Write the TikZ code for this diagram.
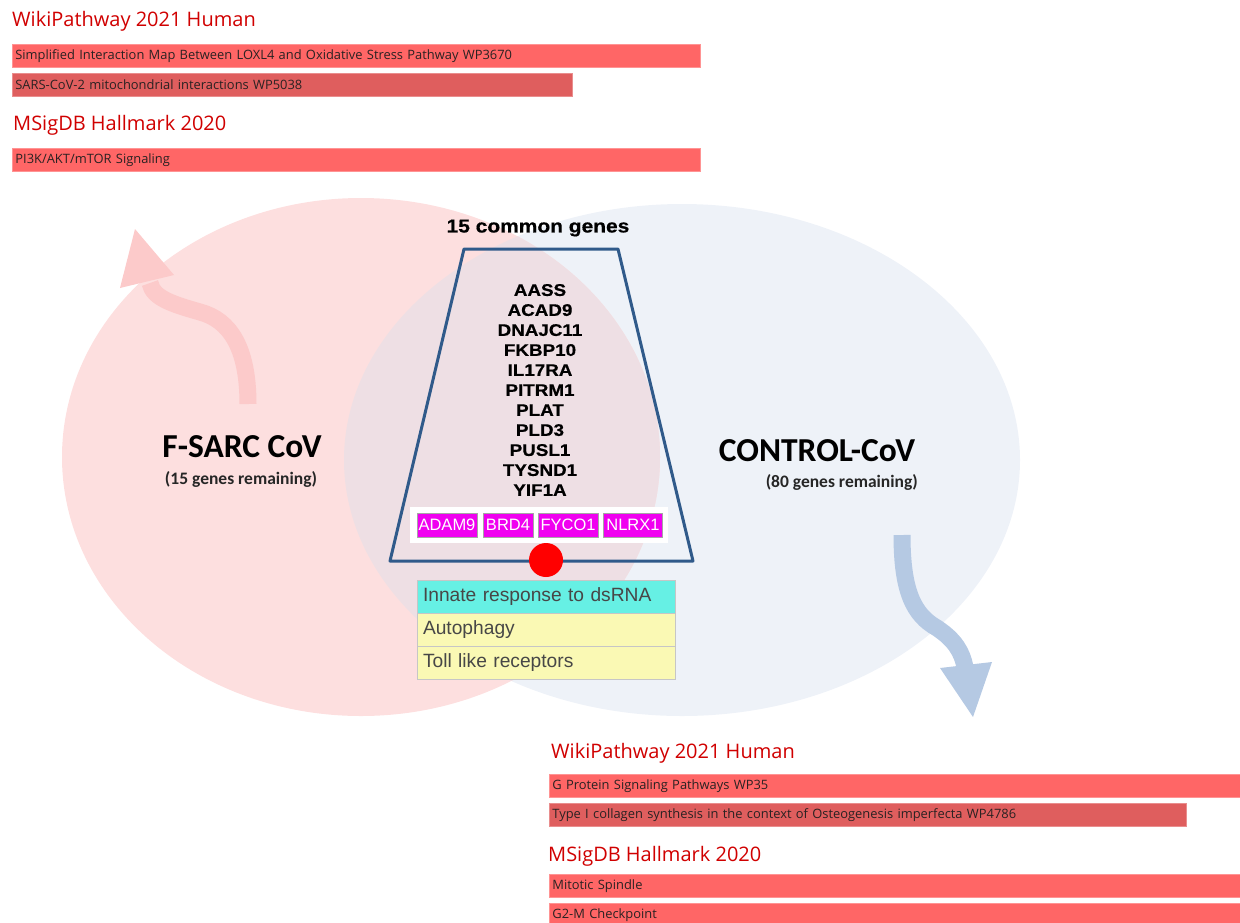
\documentclass[tikz,border=0pt]{standalone}
\usepackage{fontspec}
\setmainfont{Liberation Sans}
\newfontfamily\osans{Open Sans}
\newfontfamily\carl{Carlito}
\newfontfamily\blackf[FakeStretch=1.12,FakeBold=0.6]{Liberation Sans Bold}
\definecolor{pinkE}{HTML}{FDDFDF}
\definecolor{blueE}{HTML}{EEF2F8}
\definecolor{interE}{HTML}{EEDFE4}
\definecolor{pinkA}{HTML}{FCCACA}
\definecolor{blueA}{HTML}{B5C9E3}
\definecolor{trapC}{HTML}{305A8A}
\definecolor{magC}{HTML}{F000F0}
\definecolor{cyanC}{HTML}{66F0E4}
\definecolor{yelC}{HTML}{FAF9B4}
\definecolor{barC}{HTML}{FF6666}
\definecolor{barD}{HTML}{DF5E5E}
\definecolor{titC}{HTML}{D00000}
\definecolor{txtC}{HTML}{2A2222}
\tikzset{
  dbtitle/.style={anchor=west,inner sep=0pt,text=titC,font=\osans\fontsize{20}{24}\selectfont},
  barbox/.style={anchor=north west,fill=barC,draw=barC!70!white,line width=0.8pt,
     inner xsep=3pt,inner ysep=0pt,minimum height=23pt,align=left,
     text=txtC,font=\osans\fontsize{12.9}{15}\selectfont},
  genelist/.style={align=center,inner sep=0pt,font=\blackf\fontsize{16.8}{20}\selectfont},
  tag/.style={fill=magC,draw=gray!70,line width=0.8pt,text=white,minimum height=24pt,
     inner sep=0pt,font=\fontsize{16.5}{18}\selectfont},
  pathrow/.style={minimum width=258pt,minimum height=33pt,text width=246pt,align=left,
     inner xsep=6pt,inner ysep=0pt,draw=gray!45,line width=0.8pt,text=black!72,
     font=\fontsize{19.2}{22}\selectfont},
  biglabel/.style={inner sep=0pt,font=\carl\bfseries\fontsize{33.5}{38}\selectfont},
  sublabel/.style={inner sep=0pt,text=black!85,font=\carl\bfseries\fontsize{17.5}{20}\selectfont},
}
\begin{document}
\begin{tikzpicture}[x=1pt,y=-1pt]
\useasboundingbox (0,0) rectangle (1240,922);
% Venn ellipses
\fill[blueE] (682,460) ellipse [x radius=338, y radius=256];
\fill[pinkE] (361,457) ellipse [x radius=299, y radius=259];
\begin{scope}
  \clip (682,460) ellipse [x radius=338, y radius=256];
  \fill[interE] (361,457) ellipse [x radius=299, y radius=259];
\end{scope}
% curved arrows
\coordinate (pa0) at (248,404);
\coordinate (pa1) at (200,312);
\coordinate (pa2) at (150,283);
\draw[pinkA,line width=17pt] (pa0) .. controls (248,348) and (230,320) .. (pa1)
   .. controls (172,304) and (153,298) .. (pa2);
\fill[pinkA] (120,288) -- (135,229) -- (174,275) -- cycle;
\coordinate (ba0) at (902,535);
\coordinate (ba1) at (937,628);
\coordinate (ba2) at (965,667);
\draw[blueA,line width=17pt] (ba0) .. controls (902,592) and (914,615) .. (ba1)
   .. controls (955,640) and (962,652) .. (ba2);
\fill[blueA] (940,668) -- (992,662) -- (973,717) -- cycle;
% top enrichment
\node[dbtitle] (t1) at (12,21) {WikiPathway 2021 Human};
\node[barbox,text width=682pt] (b1) at (12,44) {Simplified Interaction Map Between LOXL4 and Oxidative Stress Pathway WP3670};
\node[barbox,fill=barD,draw=barD!70!white,text width=554pt] (b2) at (12,73) {SARS-CoV-2 mitochondrial interactions WP5038};
\node[dbtitle] (t2) at (13,125) {MSigDB Hallmark 2020};
\node[barbox,text width=682pt] (b3) at (12,148) {PI3K/AKT/mTOR Signaling};
% bottom enrichment
\node[dbtitle] (t3) at (551,753) {WikiPathway 2021 Human};
\node[barbox,text width=685pt] (b4) at (549,774) {G Protein Signaling Pathways WP35};
\node[barbox,fill=barD,draw=barD!70!white,text width=631pt] (b5) at (549,803) {Type I collagen synthesis in the context of Osteogenesis imperfecta WP4786};
\node[dbtitle] (t4) at (548,856) {MSigDB Hallmark 2020};
\node[barbox,text width=685pt] (b6) at (549,874) {Mitotic Spindle};
\node[barbox,text width=685pt] (b7) at (549,903) {G2-M Checkpoint};
% trapezoid
\coordinate (tl) at (464,249);
\coordinate (tr) at (618,249);
\coordinate (br) at (693,561);
\coordinate (bl) at (390,561);
\draw[trapC,line width=3pt,line join=round] (tl) -- (tr) -- (br) -- (bl) -- cycle;
\node[inner sep=0pt,font=\blackf\fontsize{18.7}{22}\selectfont] (common) at (538,228) {15 common genes};
\node[genelist] (genes) at (540,390) {AASS\\ACAD9\\DNAJC11\\FKBP10\\IL17RA\\PITRM1\\PLAT\\PLD3\\PUSL1\\TYSND1\\YIF1A};
\node[fill=white,minimum width=258pt,minimum height=36pt,inner sep=0pt] (tagbox) at (539,525) {};
\node[tag,minimum width=60pt] (g1) at (447,525) {ADAM9};
\node[tag,minimum width=50pt] (g2) at (508,525) {BRD4};
\node[tag,minimum width=60pt] (g3) at (568,525) {FYCO1};
\node[tag,minimum width=59pt] (g4) at (633,525) {NLRX1};
\node[circle,fill=red,minimum size=34pt,inner sep=0pt] (dot) at (546,560) {};
% pathway table
\node[pathrow,fill=cyanC] (r1) at (546,597) {Innate response to dsRNA};
\node[pathrow,fill=yelC] (r2) at (546,630) {Autophagy};
\node[pathrow,fill=yelC] (r3) at (546,663) {Toll like receptors};
% set labels
\node[biglabel] (fs) at (242,447) {F-SARC CoV};
\node[sublabel] (fsn) at (241,479) {(15 genes remaining)};
\node[biglabel] (cc) at (817,451) {CONTROL-CoV};
\node[sublabel,anchor=east] (ccn) at (918,482) {(80 genes remaining)};
\end{tikzpicture}
\end{document}
